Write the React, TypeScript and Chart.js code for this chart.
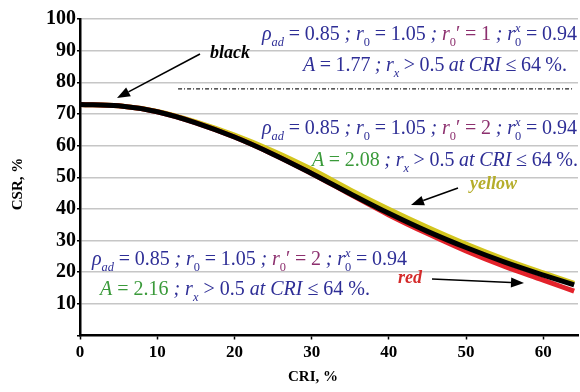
import React, { useEffect, useRef } from 'react';
import { Chart, registerables } from 'chart.js';

Chart.register(...registerables);

// ---- data ----
const CRI = [0, 5, 10, 15, 20, 25, 30, 35, 40, 45, 50, 55, 60, 64];
const CSR_BLACK = [73, 72.6, 70.7, 67.2, 62.7, 57.3, 51.2, 44.8, 38.6, 32.9, 27.8, 23.2, 19.1, 16];
const CSR_YELLOW = [73, 72.6, 70.8, 67.5, 63.3, 58.3, 52.5, 46.0, 39.9, 34.2, 28.9, 24.1, 19.8, 16.5];
const CSR_RED = [73, 72.6, 70.7, 67.2, 62.7, 57.3, 51.2, 44.6, 38.1, 32.2, 26.7, 21.8, 17.5, 14.0];
const X_TICKS = [0, 10, 20, 30, 40, 50, 60];
const Y_TICKS = [0, 10, 20, 30, 40, 50, 60, 70, 80, 90, 100];
const REF_LINE_X = [12.7, 63.8];
const REF_LINE_Y = 77.9;

const FAM = '"Liberation Serif", "Times New Roman", serif';
const BLUE = '#2e2e96';
const PURPLE = '#8c2f6e';
const GREEN = '#3a9a3a';
const SZ = 20;

type Tok = { t?: string; c?: string; it?: boolean; role?: 'base' | 'sub' | 'subsup'; sup?: string; gap?: boolean };
const G: Tok = { gap: true };

const line1 = (pv: string): Tok[] => [
  { t: 'ρ', c: BLUE, it: true }, { t: 'ad', c: BLUE, it: true, role: 'sub' }, G, { t: '=', c: BLUE }, G, { t: '0.85', c: BLUE }, G,
  { t: ';', c: BLUE, it: true }, G,
  { t: 'r', c: BLUE, it: true }, { t: '0', c: BLUE, role: 'sub' }, G, { t: '=', c: BLUE }, G, { t: '1.05', c: BLUE }, G,
  { t: ';', c: BLUE, it: true }, G,
  { t: 'r', c: PURPLE, it: true }, { t: '0', c: PURPLE, role: 'sub' }, { t: '′', c: PURPLE }, G, { t: '=', c: PURPLE }, G, { t: pv, c: PURPLE }, G,
  { t: ';', c: BLUE, it: true }, G,
  { t: 'r', c: BLUE, it: true }, { t: '0', c: BLUE, role: 'subsup', sup: 'x' }, G, { t: '=', c: BLUE }, G, { t: '0.94', c: BLUE },
];

const line2 = (a: string, ac: string): Tok[] => [
  { t: 'A', c: ac, it: true }, G, { t: '=', c: ac }, G, { t: a, c: ac }, G, { t: ';', c: BLUE, it: true }, G,
  { t: 'r', c: BLUE, it: true }, { t: 'x', c: BLUE, it: true, role: 'sub' }, G, { t: '>', c: BLUE }, G, { t: '0.5', c: BLUE }, G,
  { t: 'at', c: BLUE, it: true }, G, { t: 'CRI', c: BLUE, it: true }, G, { t: '≤', c: BLUE }, G, { t: '64', c: BLUE }, G,
  { t: '%', c: BLUE }, { t: '.', c: BLUE },
];

const TEXT_LINES: { toks: Tok[]; cx: number; y: number; w: number }[] = [
  { toks: line1('1'), cx: 419.5, y: 40, w: 315 },
  { toks: line2('1.77', BLUE), cx: 435, y: 71, w: 264 },
  { toks: line1('2'), cx: 419.5, y: 134, w: 315 },
  { toks: line2('2.08', GREEN), cx: 445, y: 166, w: 266 },
  { toks: line1('2'), cx: 249.5, y: 265, w: 315 },
  { toks: line2('2.16', GREEN), cx: 235, y: 295, w: 270 },
];

const fontFor = (it: boolean | undefined, size: number, bold = false) =>
  `${it ? 'italic ' : ''}${bold ? 'bold ' : ''}${size}px ${FAM}`;

function tokWidth(ctx: CanvasRenderingContext2D, tk: Tok): number {
  if (tk.gap) return 0;
  const role = tk.role || 'base';
  const size = role === 'base' ? SZ : SZ * 0.62;
  ctx.font = fontFor(tk.it, size);
  let w = ctx.measureText(tk.t || '').width;
  if (role === 'subsup' && tk.sup) {
    ctx.font = fontFor(true, size);
    w = Math.max(w, ctx.measureText(tk.sup).width);
  }
  return w;
}

function drawRich(ctx: CanvasRenderingContext2D, toks: Tok[], cx: number, y: number, target: number) {
  const widths = toks.map((t) => tokWidth(ctx, t));
  const nat = widths.reduce((a, b) => a + b, 0);
  const nG = toks.filter((t) => t.gap).length;
  let gap = nG ? (target - nat) / nG : 0;
  let sx = 1;
  if (gap < 0) {
    gap = 0;
    sx = target / nat;
  }
  ctx.save();
  ctx.translate(cx - target / 2, y);
  ctx.scale(sx, 1);
  ctx.textAlign = 'left';
  ctx.textBaseline = 'alphabetic';
  let x = 0;
  toks.forEach((tk, i) => {
    if (tk.gap) {
      x += gap;
      return;
    }
    const role = tk.role || 'base';
    ctx.fillStyle = tk.c || BLUE;
    if (role === 'base') {
      ctx.font = fontFor(tk.it, SZ);
      ctx.fillText(tk.t || '', x, 0);
    } else {
      const s = SZ * 0.62;
      ctx.font = fontFor(tk.it, s);
      ctx.fillText(tk.t || '', x, SZ * 0.3);
      if (role === 'subsup' && tk.sup) {
        ctx.font = fontFor(true, s);
        ctx.fillText(tk.sup, x, -SZ * 0.38);
      }
    }
    x += widths[i];
  });
  ctx.restore();
}

function arrow(ctx: CanvasRenderingContext2D, x1: number, y1: number, x2: number, y2: number) {
  const a = Math.atan2(y2 - y1, x2 - x1);
  const hl = 13, hw = 5;
  const bx = x2 - hl * Math.cos(a), by = y2 - hl * Math.sin(a);
  ctx.save();
  ctx.strokeStyle = '#000';
  ctx.fillStyle = '#000';
  ctx.lineWidth = 1.6;
  ctx.beginPath();
  ctx.moveTo(x1, y1);
  ctx.lineTo(bx, by);
  ctx.stroke();
  ctx.beginPath();
  ctx.moveTo(x2, y2);
  ctx.lineTo(bx + hw * Math.sin(a), by - hw * Math.cos(a));
  ctx.lineTo(bx - hw * Math.sin(a), by + hw * Math.cos(a));
  ctx.closePath();
  ctx.fill();
  ctx.restore();
}

const annotPlugin = {
  id: 'annot',
  afterDraw(chart: any) {
    const ctx: CanvasRenderingContext2D = chart.ctx;
    TEXT_LINES.forEach((l) => drawRich(ctx, l.toks, l.cx, l.y, l.w));
    ctx.save();
    ctx.font = fontFor(true, 18, true);
    ctx.textAlign = 'left';
    ctx.textBaseline = 'middle';
    ctx.fillStyle = '#000';
    ctx.fillText('black', 210, 53);
    ctx.fillStyle = '#b5ad2a';
    ctx.fillText('yellow', 470, 184);
    ctx.fillStyle = '#d42a2a';
    ctx.fillText('red', 398, 278);
    ctx.restore();
    arrow(ctx, 200, 54, 117, 98);
    arrow(ctx, 458, 188, 411, 205);
    arrow(ctx, 432, 279, 524, 283);
    ctx.save();
    ctx.fillStyle = '#000';
    ctx.font = fontFor(false, 15, true);
    ctx.textAlign = 'center';
    ctx.textBaseline = 'middle';
    ctx.fillText('CRI, %', 313, 377);
    ctx.translate(18, 184);
    ctx.rotate(-Math.PI / 2);
    ctx.fillText('CSR, %', 0, 0);
    ctx.restore();
  },
};

export default function App() {
  const ref = useRef<HTMLCanvasElement | null>(null);
  useEffect(() => {
    if (!ref.current) return;
    const mk = (ys: number[]) => CRI.map((x, i) => ({ x, y: ys[i] }));
    const common = { pointRadius: 0, borderWidth: 5, tension: 0.4, cubicInterpolationMode: 'monotone' as const, fill: false };
    const chart = new Chart(ref.current, {
      type: 'line',
      data: {
        datasets: [
          { label: 'black', data: mk(CSR_BLACK), borderColor: '#000000', order: 1, ...common },
          { label: 'red', data: mk(CSR_RED), borderColor: '#e3222a', order: 2, ...common },
          { label: 'yellow', data: mk(CSR_YELLOW), borderColor: '#d3c51e', order: 3, ...common },
          {
            label: 'ref',
            data: REF_LINE_X.map((x) => ({ x, y: REF_LINE_Y })),
            borderColor: '#222',
            borderWidth: 1.3,
            borderDash: [4, 2, 1, 2],
            pointRadius: 0,
            order: 4,
          },
        ],
      },
      options: {
        responsive: false,
        animation: false,
        layout: { padding: { top: 19, right: 2, left: 0, bottom: 0 } },
        plugins: { legend: { display: false }, tooltip: { enabled: false } },
        scales: {
          x: {
            type: 'linear',
            min: 0,
            max: 64.5,
            afterBuildTicks: (s: any) => {
              s.ticks = X_TICKS.map((v) => ({ value: v }));
            },
            afterFit: (s: any) => {
              s.height = 56.5;
            },
            grid: { drawOnChartArea: false, drawTicks: true, tickLength: 4, tickColor: '#000', tickWidth: 1.5 },
            border: { color: '#000', width: 2.5 },
            ticks: {
              color: '#000',
              font: { family: FAM, size: 17, weight: 'bold' },
              padding: 3,
              maxRotation: 0,
              autoSkip: false,
            },
          },
          y: {
            type: 'linear',
            min: 0,
            max: 100,
            afterBuildTicks: (s: any) => {
              s.ticks = Y_TICKS.map((v) => ({ value: v }));
            },
            afterFit: (s: any) => {
              s.width = 80;
            },
            grid: {
              color: (c: any) => (c.tick && c.tick.value === 0 ? 'rgba(0,0,0,0)' : '#c6c6c6'),
              lineWidth: 1.5,
              tickColor: '#000',
              tickLength: 3,
            },
            border: { color: '#000', width: 2.5 },
            ticks: {
              color: '#000',
              font: { family: FAM, size: 20, weight: 'bold' },
              padding: 1,
              autoSkip: false,
              callback: (v: any) => (v === 0 ? '' : String(v)),
            },
          },
        },
      },
      plugins: [annotPlugin],
    });
    return () => chart.destroy();
  }, []);
  return (
    <div style={{ position: 'absolute', left: 0, top: 0, width: 580, height: 392, background: '#fff' }}>
      <canvas ref={ref} width={580} height={392} />
    </div>
  );
}
